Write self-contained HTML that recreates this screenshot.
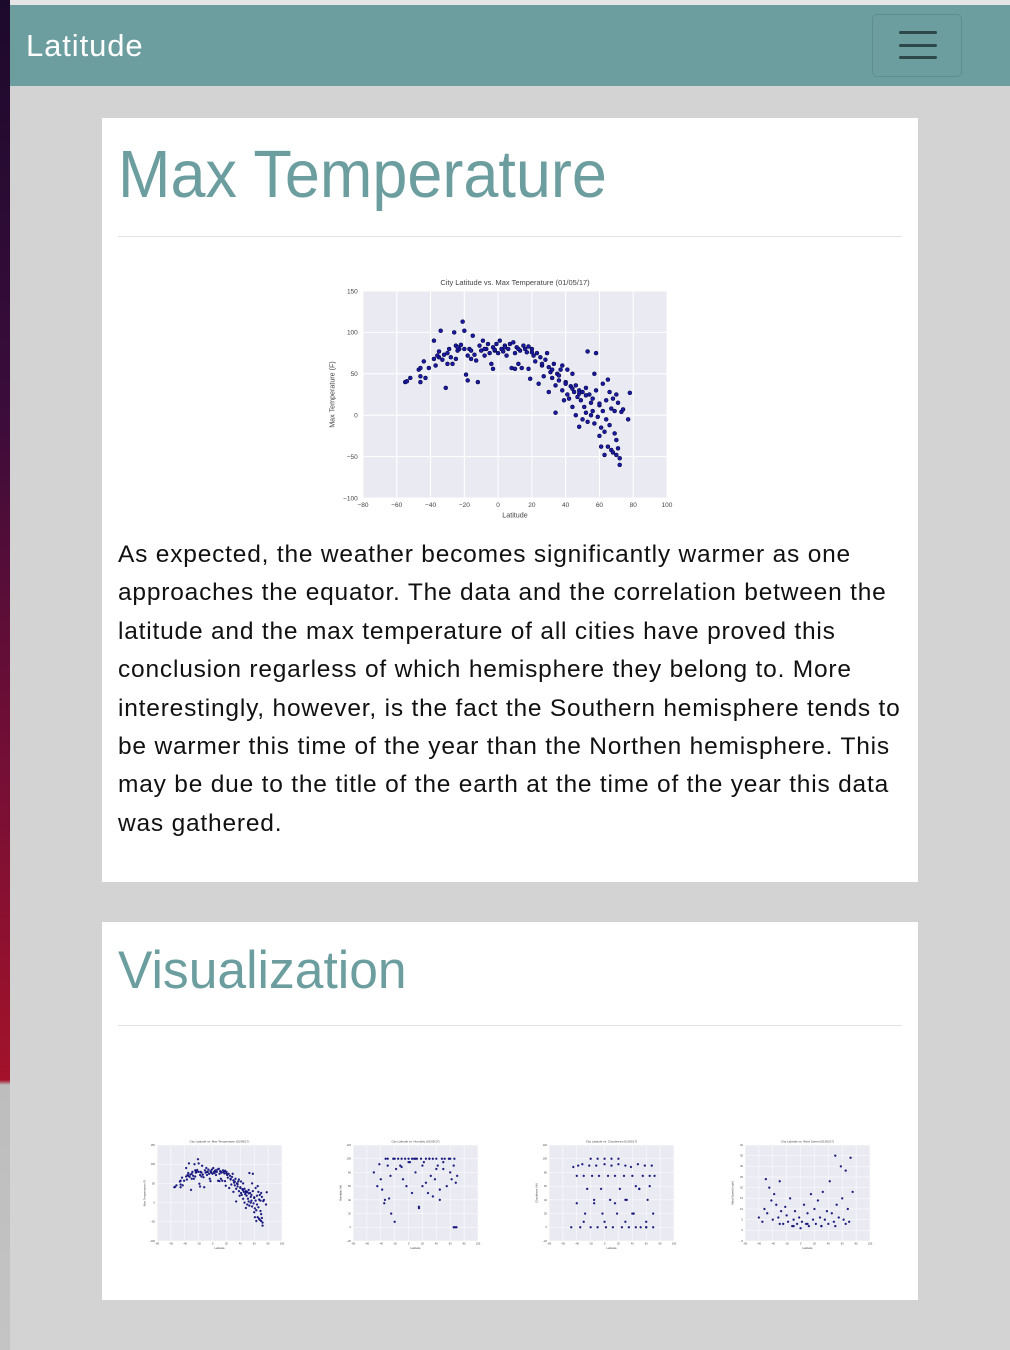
<!DOCTYPE html>
<html><head><meta charset="utf-8">
<style>
*{box-sizing:border-box;margin:0;padding:0}
body{width:1010px;height:1350px;background:#d3d3d3;font-family:"Liberation Sans",sans-serif;position:relative;overflow:hidden}
#strip{position:absolute;left:0;top:0;width:10px;height:1350px;background:linear-gradient(#1c0a2c 0px,#3a0c3a 400px,#7a0f35 800px,#a3122a 1080px,#bdbdbd 1085px,#c4c4c4 1350px)}
#topline{position:absolute;left:10px;top:0;width:1000px;height:5px;background:#e6e6e6}
#nav{position:absolute;left:10px;top:5px;width:1000px;height:81px;background:#6c9e9f}
#brand{position:absolute;left:16px;top:23px;font-size:31px;color:#fff;letter-spacing:0.9px}
#toggler{position:absolute;left:862px;top:9px;width:90px;height:63px;border:1px solid #5f8e8f;border-radius:5px}
.bar{position:absolute;left:26px;width:38px;height:3px;background:#2e4748;border-radius:2px}
.card{position:absolute;left:102px;width:816px;background:#fff}
h1{position:absolute;left:16px;color:#6c9e9f;font-weight:normal;white-space:nowrap;transform-origin:0 0}
hr{position:absolute;left:16px;width:784px;border:0;border-top:1px solid #e3e3e3}
p{position:absolute;left:16px;top:418px;width:792px;font-size:24.5px;line-height:38.4px;color:#111;letter-spacing:0.8px}
svg text{font-family:"Liberation Sans",sans-serif;fill:#444}
</style></head><body>
<div id="strip"></div>
<div id="topline"></div>
<div id="nav">
 <div id="brand">Latitude</div>
 <div id="toggler">
  <div class="bar" style="top:16px"></div><div class="bar" style="top:29px"></div><div class="bar" style="top:41px"></div>
 </div>
</div>
<div class="card" style="top:118px;height:764px">
 <h1 style="top:18px;font-size:67px;transform:scaleX(0.94)">Max Temperature</h1>
 <hr style="top:118px">
 <svg id="main" width="816" height="415" style="position:absolute;left:0;top:0"></svg>
 <p>As expected, the weather becomes significantly warmer as one approaches the equator. The data and the correlation between the latitude and the max temperature of all cities have proved this conclusion regarless of which hemisphere they belong to. More interestingly, however, is the fact the Southern hemisphere tends to be warmer this time of the year than the Northen hemisphere. This may be due to the title of the earth at the time of the year this data was gathered.</p>
</div>
<div class="card" style="top:922px;height:378px">
 <h1 style="top:18px;font-size:53px;transform:scaleX(0.973)">Visualization</h1>
 <hr style="top:103px">
 <svg id="thumbs" width="816" height="180" style="position:absolute;left:0;top:200px"></svg>
</div>
<script>
const tempLat=[-55,-54,-52,-47,-46,-46,-46,-44,-43,-41,-38,-38,-37,-35,-35,-34,-33,-32,-31,-30,-29,-28,-27,-26,-25,-25,-24,-23,-22,-21,-20,-20,-19,-18,-18,-17,-16,-15,-14,-13,-12,-11,-10,-9,-8,-7,-6,-5,-4,-3,-3,-2,-1,0,1,2,3,4,5,6,7,8,9,10,10,11,12,13,14,15,16,17,18,18,19,20,21,22,23,24,25,26,27,28,29,30,30,31,32,33,34,34,35,36,37,38,38,39,40,41,41,42,43,44,44,45,46,46,47,48,48,49,50,50,51,52,52,53,53,54,55,55,56,57,57,58,58,59,60,60,61,61,62,62,63,63,64,64,65,65,66,66,67,67,68,68,69,69,70,70,70,71,71,72,72,73,74,77,78,-36,-30,-24,-16,-8,-2,4,12,20,26,32,36,40,44,48,52,56,60];
const tempMax=[40,41,45,55,57,47,40,65,45,57,90,68,60,77,70,102,67,73,33,62,80,70,62,100,84,68,78,80,85,113,102,80,49,42,72,80,68,96,73,66,40,84,78,90,72,80,86,75,62,56,82,78,86,75,90,80,77,84,72,80,86,57,88,75,56,82,62,78,57,84,80,76,83,56,44,80,72,65,75,38,70,60,47,67,75,28,58,52,45,62,36,3,50,42,55,60,30,18,40,55,25,20,35,50,10,28,0,36,22,-14,30,18,-5,28,10,33,3,77,-8,25,0,15,5,50,-10,75,30,-2,12,-25,-15,-38,38,5,-48,-20,18,-5,43,-38,28,-12,-42,8,20,-45,-22,5,-30,-48,25,-40,15,-52,-60,4,7,-5,27,72,75,82,78,80,79,82,80,76,62,55,48,38,32,26,24,20,14];
const tempTicksX=[-80,-60,-40,-20,0,20,40,60,80,100];
const tempTicksY=[-100,-50,0,50,100,150];
const humLat=[-50,-45,-40,-38,-35,-33,-30,-28,-26,-25,-22,-20,-18,-15,-12,-10,-8,-5,-3,0,2,5,8,10,12,15,18,20,22,25,28,30,32,35,38,40,42,45,48,50,52,55,58,60,62,65,66,68,70,-30,-20,-10,0,10,20,30,40,50,60,65,67,69,-42,-34,5,15,25,35,45];
const humVal=[80,60,70,55,35,100,100,42,75,20,100,8,85,100,90,100,70,100,60,100,95,50,100,80,100,30,100,60,95,100,50,100,75,100,70,100,90,40,100,85,100,60,100,80,70,90,100,65,75,90,100,88,95,100,90,100,85,95,100,0,0,0,92,40,100,28,65,45,55];
const cloudLat=[-48,-45,-40,-38,-35,-32,-30,-28,-25,-22,-20,-18,-15,-12,-10,-8,-5,-3,0,2,5,8,10,12,15,18,20,22,25,28,30,32,35,38,40,42,45,48,50,52,55,58,60,62,65,68,70,72,-20,-10,0,10,20,30,40,50,60,70,-30,0,30,60,-40,-15,15,45,65];
const cloudVal=[0,88,75,90,0,92,75,20,56,90,0,75,40,90,0,75,56,20,92,0,75,40,90,0,75,20,92,56,0,75,90,40,0,88,75,20,0,92,56,0,75,90,0,40,75,90,0,75,100,100,100,100,100,40,20,56,0,20,8,8,8,8,35,35,35,60,60];
const windLat=[-60,-55,-52,-50,-48,-45,-42,-40,-38,-35,-32,-30,-28,-25,-22,-20,-18,-15,-12,-10,-8,-5,-2,0,2,5,8,10,12,15,18,20,22,25,28,30,32,35,38,40,42,45,48,50,52,55,58,60,62,65,68,70,72,75,-30,-10,10,30,50,65];
const windVal=[6,4,10,24,8,20,14,5,17,12,6,23,9,3,11,7,4,15,2,5,9,3,6,1,4,12,3,8,2,17,5,10,3,14,6,2,18,5,9,3,23,8,4,35,12,6,30,15,5,28,10,4,34,18,3,2,3,2,2,3];
const thumbs=[
 {x:tempLat,y:tempMax,ymin:-100,ymax:150,yt:[-100,-50,0,50,100,150],title:"City Latitude vs. Max Temperature (01/05/17)",yl:"Max Temperature (F)"},
 {x:humLat,y:humVal,ymin:-20,ymax:120,yt:[-20,0,20,40,60,80,100,120],title:"City Latitude vs. Humidity (01/05/17)",yl:"Humidity (%)"},
 {x:cloudLat,y:cloudVal,ymin:-20,ymax:120,yt:[-20,0,20,40,60,80,100,120],title:"City Latitude vs. Cloudiness (01/05/17)",yl:"Cloudiness (%)"},
 {x:windLat,y:windVal,ymin:-5,ymax:40,yt:[-5,0,5,10,15,20,25,30,35,40],title:"City Latitude vs. Wind Speed (01/05/17)",yl:"Wind Speed (mph)"}];
const NS="http://www.w3.org/2000/svg";
function mk(svg,tag,attrs){const e=document.createElementNS(NS,tag);for(const k in attrs)e.setAttribute(k,attrs[k]);svg.appendChild(e);return e;}
function chart(svg,o){
 const {L,T,W,H,xs,ys,ymin,ymax,yt,fs,r,title,yl}=o;
 const sx=v=>L+(v+80)/180*W, sy=v=>T+H-(v-ymin)/(ymax-ymin)*H;
 const bg=mk(svg,'rect',{x:L,y:T,width:W,height:H,fill:'#eaeaf2'});
 
 
 tempTicksX.forEach(v=>{mk(svg,'line',{x1:sx(v),x2:sx(v),y1:T,y2:T+H,stroke:'#fff','stroke-width':fs>3?1:0.5});
  const t=mk(svg,'text',{x:sx(v),y:T+H+fs*1.4,'font-size':fs,'text-anchor':'middle'});t.textContent=v<0?'\u2212'+(-v):v;
  
  });
 yt.forEach(v=>{mk(svg,'line',{x1:L,x2:L+W,y1:sy(v),y2:sy(v),stroke:'#fff','stroke-width':fs>3?1:0.5});
  const t=mk(svg,'text',{x:L-fs*0.8,y:sy(v)+fs*0.35,'font-size':fs,'text-anchor':'end'});t.textContent=v<0?'\u2212'+(-v):v;
  
  });
 for(let i=0;i<xs.length;i++){const c=mk(svg,'circle',{cx:sx(xs[i]),cy:sy(ys[i]),r:r,fill:'#1a1aa0',stroke:'#000033','stroke-width':r/4});
  
  }
 const tt=mk(svg,'text',{x:L+W/2,y:T-fs*0.9,'font-size':fs*1.15,'text-anchor':'middle'});tt.textContent=title;
 
 
 const xl=mk(svg,'text',{x:L+W/2,y:T+H+fs*3,'font-size':fs*1.1,'text-anchor':'middle'});xl.textContent='Latitude';
 
 
 const cx=L-fs*4.4, cy=T+H/2;
 const ylb=mk(svg,'text',{x:cx,y:cy,'font-size':fs*1.1,'text-anchor':'middle',transform:`rotate(-90 ${cx} ${cy})`});ylb.textContent=yl;
 
 
}
chart(document.getElementById('main'),{L:261,T:173,W:304,H:207,xs:tempLat,ys:tempMax,ymin:-100,ymax:150,yt:tempTicksY,fs:6.5,r:2,title:"City Latitude vs. Max Temperature (01/05/17)",yl:"Max Temperature (F)"});
const ts=document.getElementById('thumbs');
thumbs.forEach((t,i)=>{chart(ts,{L:55+i*196,T:23,W:125,H:96,xs:t.x,ys:t.y,ymin:t.ymin,ymax:t.ymax,yt:t.yt,fs:2.6,r:1,title:t.title,yl:t.yl});});
</script>
</body></html>
